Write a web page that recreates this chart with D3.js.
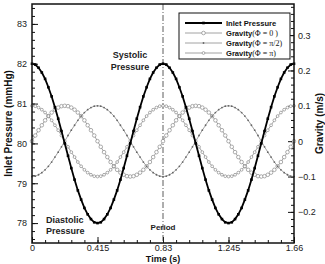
<!DOCTYPE html>
<html>
<head>
<meta charset="utf-8">
<script src="https://cdn.jsdelivr.net/npm/d3@7"></script>
<style>
  body { margin: 0; background: #fff; }
  text { font-family: "Liberation Sans", Arial, sans-serif; }
</style>
</head>
<body>
<svg width="325" height="264"></svg>
<script>
const svg = d3.select('svg');

// sampled every 0.02075 s (40 samples per 0.83 s cycle)
const time = [0, 0.02075, 0.0415, 0.06225, 0.083, 0.10375, 0.1245, 0.14525, 0.166, 0.18675,
  0.2075, 0.22825, 0.249, 0.26975, 0.2905, 0.31125, 0.332, 0.35275, 0.3735, 0.39425,
  0.415, 0.43575, 0.4565, 0.47725, 0.498, 0.51875, 0.5395, 0.56025, 0.581, 0.60175,
  0.6225, 0.64325, 0.664, 0.68475, 0.7055, 0.72625, 0.747, 0.76775, 0.7885, 0.80925,
  0.83, 0.85075, 0.8715, 0.89225, 0.913, 0.93375, 0.9545, 0.97525, 0.996, 1.01675,
  1.0375, 1.05825, 1.079, 1.09975, 1.1205, 1.14125, 1.162, 1.18275, 1.2035, 1.22425,
  1.245, 1.26575, 1.2865, 1.30725, 1.328, 1.34875, 1.3695, 1.39025, 1.411, 1.43175,
  1.4525, 1.47325, 1.494, 1.51475, 1.5355, 1.55625, 1.577, 1.59775, 1.6185, 1.63925, 1.66];

const inletPressure = [82, 81.98, 81.9, 81.78, 81.62, 81.41, 81.18, 80.91, 80.62, 80.31,
  80, 79.69, 79.38, 79.09, 78.82, 78.59, 78.38, 78.22, 78.1, 78.02,
  78, 78.02, 78.1, 78.22, 78.38, 78.59, 78.82, 79.09, 79.38, 79.69,
  80, 80.31, 80.62, 80.91, 81.18, 81.41, 81.62, 81.78, 81.9, 81.98,
  82, 81.98, 81.9, 81.78, 81.62, 81.41, 81.18, 80.91, 80.62, 80.31,
  80, 79.69, 79.38, 79.09, 78.82, 78.59, 78.38, 78.22, 78.1, 78.02,
  78, 78.02, 78.1, 78.22, 78.38, 78.59, 78.82, 79.09, 79.38, 79.69,
  80, 80.31, 80.62, 80.91, 81.18, 81.41, 81.62, 81.78, 81.9, 81.98, 82];

const gravityPhi0 = [0, 0.016, 0.031, 0.045, 0.059, 0.071, 0.081, 0.089, 0.095, 0.099,
  0.1, 0.099, 0.095, 0.089, 0.081, 0.071, 0.059, 0.045, 0.031, 0.016,
  0, -0.016, -0.031, -0.045, -0.059, -0.071, -0.081, -0.089, -0.095, -0.099,
  -0.1, -0.099, -0.095, -0.089, -0.081, -0.071, -0.059, -0.045, -0.031, -0.016,
  0, 0.016, 0.031, 0.045, 0.059, 0.071, 0.081, 0.089, 0.095, 0.099,
  0.1, 0.099, 0.095, 0.089, 0.081, 0.071, 0.059, 0.045, 0.031, 0.016,
  0, -0.016, -0.031, -0.045, -0.059, -0.071, -0.081, -0.089, -0.095, -0.099,
  -0.1, -0.099, -0.095, -0.089, -0.081, -0.071, -0.059, -0.045, -0.031, -0.016, 0];

const gravityPhiHalfPi = [-0.1, -0.099, -0.095, -0.089, -0.081, -0.071, -0.059, -0.045, -0.031, -0.016,
  0, 0.016, 0.031, 0.045, 0.059, 0.071, 0.081, 0.089, 0.095, 0.099,
  0.1, 0.099, 0.095, 0.089, 0.081, 0.071, 0.059, 0.045, 0.031, 0.016,
  0, -0.016, -0.031, -0.045, -0.059, -0.071, -0.081, -0.089, -0.095, -0.099,
  -0.1, -0.099, -0.095, -0.089, -0.081, -0.071, -0.059, -0.045, -0.031, -0.016,
  0, 0.016, 0.031, 0.045, 0.059, 0.071, 0.081, 0.089, 0.095, 0.099,
  0.1, 0.099, 0.095, 0.089, 0.081, 0.071, 0.059, 0.045, 0.031, 0.016,
  0, -0.016, -0.031, -0.045, -0.059, -0.071, -0.081, -0.089, -0.095, -0.099, -0.1];

const gravityPhiPi = [0.1, 0.099, 0.095, 0.089, 0.081, 0.071, 0.059, 0.045, 0.031, 0.016,
  0, -0.016, -0.031, -0.045, -0.059, -0.071, -0.081, -0.089, -0.095, -0.099,
  -0.1, -0.099, -0.095, -0.089, -0.081, -0.071, -0.059, -0.045, -0.031, -0.016,
  0, 0.016, 0.031, 0.045, 0.059, 0.071, 0.081, 0.089, 0.095, 0.099,
  0.1, 0.099, 0.095, 0.089, 0.081, 0.071, 0.059, 0.045, 0.031, 0.016,
  0, -0.016, -0.031, -0.045, -0.059, -0.071, -0.081, -0.089, -0.095, -0.099,
  -0.1, -0.099, -0.095, -0.089, -0.081, -0.071, -0.059, -0.045, -0.031, -0.016,
  0, 0.016, 0.031, 0.045, 0.059, 0.071, 0.081, 0.089, 0.095, 0.099, 0.1];

const timeTicks = [0, 0.415, 0.83, 1.245, 1.66];
const pressureTicks = [78, 79, 80, 81, 82, 83];
const gravityTicks = [-0.2, -0.1, 0, 0.1, 0.2, 0.3];

const margin = {top: 4, right: 31, bottom: 21, left: 32};
const innerwidth = 325 - margin.left - margin.right;
const innerheight = 264 - margin.top - margin.bottom;

const g = svg.append('g')
  .attr('transform', 'translate(' + margin.left + ',' + margin.top + ')');

const xscale = d3.scaleLinear().domain([0, 1.66]).range([0, innerwidth]);
const yleft = d3.scaleLinear().domain([77.5, 83.5]).range([innerheight, 0]);
const yright = d3.scaleLinear().domain([-0.288, 0.388]).range([innerheight, 0]);

const tickStyle = sel => {
  sel.select('.domain').remove();
  sel.selectAll('.tick line').attr('stroke', '#111').attr('stroke-width', 1);
  sel.selectAll('text').attr('font-family', '"Liberation Sans", Arial, sans-serif')
    .attr('font-size', 9).attr('fill', '#222');
};

// minor ticks
g.append('g').call(d3.axisLeft(yleft).tickValues(d3.range(77.6, 83.45, 0.2)).tickSize(-3).tickFormat(''))
  .call(tickStyle);
g.append('g').attr('transform', 'translate(' + innerwidth + ',0)')
  .call(d3.axisRight(yright).tickValues(d3.range(-0.28, 0.385, 0.02)).tickSize(-3).tickFormat(''))
  .call(tickStyle);
g.append('g').attr('transform', 'translate(0,' + innerheight + ')')
  .call(d3.axisBottom(xscale).tickValues(d3.range(0, 1.661, 0.083)).tickSize(-3).tickFormat(''))
  .call(tickStyle);

// major ticks
g.append('g').call(d3.axisLeft(yleft).tickValues(pressureTicks).tickSize(-6).tickPadding(5).tickFormat(d3.format('d')))
  .call(tickStyle);
g.append('g').attr('transform', 'translate(' + innerwidth + ',0)')
  .call(d3.axisRight(yright).tickValues(gravityTicks).tickSize(-6).tickPadding(4)
    .tickFormat(d => d === 0 ? '0' : d3.format('.1f')(d)))
  .call(tickStyle);
g.append('g').attr('transform', 'translate(0,' + innerheight + ')')
  .call(d3.axisBottom(xscale).tickValues(timeTicks).tickSize(-6).tickPadding(2).tickFormat(d => String(d)))
  .call(tickStyle);

// period line
g.append('line')
  .attr('x1', xscale(0.83)).attr('x2', xscale(0.83))
  .attr('y1', 0).attr('y2', innerheight)
  .attr('stroke', '#333').attr('stroke-width', 0.8)
  .attr('stroke-dasharray', '6,2,1,2');

const series = (vals) => time.map((t, i) => ({t: t, v: vals[i]}));

const gravLine = d3.line().x(d => xscale(d.t)).y(d => yright(d.v));
const presLine = d3.line().x(d => xscale(d.t)).y(d => yleft(d.v));

const gravity = [
  {name: 'Φ = 0 )', data: series(gravityPhi0), marker: 'bigcircle'},
  {name: 'Φ = π/2)', data: series(gravityPhiHalfPi), marker: 'dot'},
  {name: 'Φ = π)', data: series(gravityPhiPi), marker: 'circle'}
];

const drawMarker = (sel, kind, x, y) => {
  if (kind === 'bigcircle') {
    sel.append('circle').attr('cx', x).attr('cy', y).attr('r', 1.8)
      .attr('fill', '#fff').attr('stroke', '#8a8a8a').attr('stroke-width', 0.7);
  } else if (kind === 'circle') {
    sel.append('circle').attr('cx', x).attr('cy', y).attr('r', 1.4)
      .attr('fill', '#fff').attr('stroke', '#8a8a8a').attr('stroke-width', 0.7);
  } else if (kind === 'dot') {
    sel.append('circle').attr('cx', x).attr('cy', y).attr('r', 0.9).attr('fill', '#666');
  } else {
    sel.append('rect').attr('x', x - 1.3).attr('y', y - 1.3).attr('width', 2.6).attr('height', 2.6)
      .attr('fill', '#000');
  }
};

gravity.forEach(s => {
  g.append('path').datum(s.data).attr('d', gravLine)
    .attr('fill', 'none').attr('stroke', '#8a8a8a').attr('stroke-width', 0.8);
  const mg = g.append('g');
  s.data.forEach(d => drawMarker(mg, s.marker, xscale(d.t), yright(d.v)));
});

const presData = series(inletPressure);
g.append('path').datum(presData).attr('d', presLine)
  .attr('fill', 'none').attr('stroke', '#000').attr('stroke-width', 1.8);
const pg = g.append('g');
presData.forEach(d => drawMarker(pg, 'square', xscale(d.t), yleft(d.v)));

// frame
g.append('rect').attr('width', innerwidth).attr('height', innerheight)
  .attr('fill', 'none').attr('stroke', '#111').attr('stroke-width', 1.5);

// annotations
const note = (x, y, txt, anchor, size) => svg.append('text')
  .attr('x', x).attr('y', y).attr('text-anchor', anchor)
  .attr('font-size', size).attr('font-weight', 'bold').attr('fill', '#222').text(txt);

note(130, 58, 'Systolic', 'middle', 9);
note(130, 70, 'Pressure', 'middle', 9);
note(46, 223, 'Diastolic', 'start', 9);
note(46, 234, 'Pressure', 'start', 9);
note(margin.left + xscale(0.83), 230, 'Period', 'middle', 8);

// axis titles
svg.append('text')
  .attr('transform', 'translate(12,' + (margin.top + innerheight / 2) + ') rotate(-90)')
  .attr('text-anchor', 'middle').attr('font-size', 10).attr('font-weight', 'bold').attr('fill', '#111')
  .text('Inlet Pressure (mmHg)');

svg.append('text')
  .attr('transform', 'translate(323,' + (margin.top + innerheight / 2) + ') rotate(-90)')
  .attr('text-anchor', 'middle').attr('font-size', 10).attr('font-weight', 'bold').attr('fill', '#111')
  .text('Gravity (m/s)');

svg.append('text')
  .attr('x', margin.left + innerwidth / 2).attr('y', 262.3)
  .attr('text-anchor', 'middle').attr('font-size', 9).attr('font-weight', 'bold').attr('fill', '#111')
  .text('Time (s)');

// legend
const legend = svg.append('g').attr('transform', 'translate(179,13)');
legend.append('rect').attr('width', 111).attr('height', 46)
  .attr('fill', '#fff').attr('stroke', '#111').attr('stroke-width', 1);

const legendItems = [{marker: 'square', label: 'Inlet Pressure', sub: null}]
  .concat(gravity.map(s => ({marker: s.marker, label: 'Gravity', sub: '(' + s.name})));

legendItems.forEach((d, i) => {
  const yy = 10 + i * 10;
  const row = legend.append('g');
  row.append('line').attr('x1', 6).attr('x2', 43).attr('y1', yy).attr('y2', yy)
    .attr('stroke', d.marker === 'square' ? '#000' : '#8a8a8a')
    .attr('stroke-width', d.marker === 'square' ? 1.8 : 0.8);
  drawMarker(row, d.marker, 24.5, yy);
  const t = row.append('text').attr('x', 47).attr('y', yy + 3)
    .attr('font-size', 7.6).attr('font-weight', 'bold').attr('fill', '#111').text(d.label);
  if (d.sub) {
    t.append('tspan').attr('font-family', '"Liberation Serif", serif').attr('font-weight', 'normal')
      .attr('font-size', 8).text(d.sub);
  }
});
</script>
</body>
</html>
